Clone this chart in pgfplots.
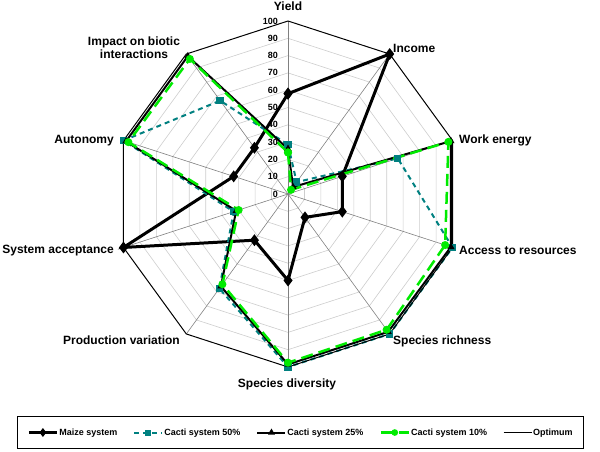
\documentclass[border=0pt]{standalone}
\usepackage{pgfplots}
\pgfplotsset{compat=1.18}
\usepackage{pgfplotstable}
\usepackage{fontspec}
\setmainfont{Liberation Sans}
\definecolor{tealc}{RGB}{0,128,128}
\definecolor{greenc}{RGB}{0,235,0}
\definecolor{ringc}{RGB}{205,205,205}
\definecolor{spokec}{RGB}{128,128,128}

% angles: Yield, Income, Work energy, Access, Species richness, Species diversity,
% Production variation, System acceptance, Autonomy, Impact on biotic interactions
\pgfplotstableread{
a v
90 58
54 100
18 33
-18 33
-54 16.7
-90 50
-126 33
-162 100
162 33
126 33
90 58
}\maize
\pgfplotstableread{
a v
90 28.5
54 8.5
18 66.7
-18 100
-54 100
-90 100
-126 67.5
-162 33
162 100
126 66.7
90 28.5
}\cactiA
\pgfplotstableread{
a v
90 26
54 5
18 99
-18 99
-54 98.5
-90 98.5
-126 66
-162 31.5
162 98.5
126 98.5
90 26
}\cactiB
\pgfplotstableread{
a v
90 24
54 3
18 97.5
-18 95.5
-54 97
-90 97.5
-126 64.5
-162 30
162 97
126 96.5
90 24
}\cactiC
\pgfplotstableread{
a v
90 100
54 100
18 100
-18 100
-54 100
-90 100
-126 100
-162 100
162 100
126 100
90 100
}\optimum

\begin{document}
\begin{tikzpicture}
\begin{axis}[
  hide axis, x=1pt, y=1pt, scale only axis,
  xmin=-288, xmax=312, ymin=-257, ymax=194,
  clip=false,
  legend columns=5,
  legend style={at={(0.5008,0.041)}, anchor=center, draw=black, line width=0.8pt,
    font=\bfseries\fontsize{9}{11}\selectfont, inner xsep=10pt, inner ysep=10pt,
    nodes={inner xsep=1pt, inner ysep=2pt},
    /tikz/every even column/.append style={column sep=15pt}},
  legend image code/.code={\draw[mark repeat=2,mark phase=2,#1,mark size=2pt] plot coordinates {(0pt,0pt) (14pt,0pt) (28pt,0pt)};},
]
\path (axis cs:-288,-257) rectangle (axis cs:312,194);
% rings
\pgfplotsinvokeforeach{10,20,...,90}{
  \addplot[ringc, line width=0.6pt, forget plot] table[x expr=1.73*#1*cos(\thisrow{a}), y expr=1.73*#1*sin(\thisrow{a})] \optimum;
}
% spokes
\pgfplotsinvokeforeach{90,54,18,-18,-54,-90,-126,-162,162,126}{
  \draw[spokec, line width=0.6pt] (axis cs:0,0) -- (axis cs:{173*cos(#1)},{173*sin(#1)});
}
% series
\addplot[black, line width=3pt, mark=diamond*, mark size=3.5pt, mark options={solid}]
  table[x expr=1.73*\thisrow{v}*cos(\thisrow{a}), y expr=1.73*\thisrow{v}*sin(\thisrow{a})] \maize;
\addlegendentry{Maize system}
\addplot[tealc, line width=2pt, dash pattern=on 5pt off 4pt, mark=square*, mark size=2.7pt, mark options={solid}]
  table[x expr=1.73*\thisrow{v}*cos(\thisrow{a}), y expr=1.73*\thisrow{v}*sin(\thisrow{a})] \cactiA;
\addlegendentry{Cacti system 50\%}
\addplot[black, line width=2pt, mark=triangle*, mark size=2.2pt, mark options={solid}]
  table[x expr=1.73*\thisrow{v}*cos(\thisrow{a}), y expr=1.73*\thisrow{v}*sin(\thisrow{a})] \cactiB;
\addlegendentry{Cacti system 25\%}
\addplot[greenc, line width=2.5pt, dash pattern=on 12pt off 6pt, mark=*, mark size=2.7pt, mark options={solid}]
  table[x expr=1.73*\thisrow{v}*cos(\thisrow{a}), y expr=1.73*\thisrow{v}*sin(\thisrow{a})] \cactiC;
\addlegendentry{Cacti system 10\%}
\addplot[black, line width=1pt]
  table[x expr=1.73*\thisrow{v}*cos(\thisrow{a}), y expr=1.73*\thisrow{v}*sin(\thisrow{a})] \optimum;
\addlegendentry{Optimum}
% radial tick labels
\pgfplotsinvokeforeach{0,10,...,100}{
  \node[anchor=east, inner sep=0pt, font=\bfseries\fontsize{9}{10}\selectfont] at (axis cs:-10,{1.73*#1}) {#1};
}
% category labels
\begin{scope}[every node/.style={inner sep=0pt, font=\bfseries\fontsize{12}{14}\selectfont}]
\node[anchor=base] at (axis cs:0,183) {Yield};
\node[anchor=base west] at (axis cs:105,142) {Income};
\node[anchor=base west] at (axis cs:171,51) {Work energy};
\node[anchor=base west] at (axis cs:171,-60) {Access to resources};
\node[anchor=base west] at (axis cs:105,-150) {Species richness};
\node[anchor=base] at (axis cs:-1,-193) {Species diversity};
\node[anchor=base east] at (axis cs:-108,-150) {Production variation};
\node[anchor=base east] at (axis cs:-174,-59) {System acceptance};
\node[anchor=base east] at (axis cs:-174,51) {Autonomy};
\node[anchor=south, align=center] at (axis cs:-154,135) {Impact on biotic\\[-1pt]interactions};
\end{scope}
\end{axis}
\end{tikzpicture}
\end{document}
